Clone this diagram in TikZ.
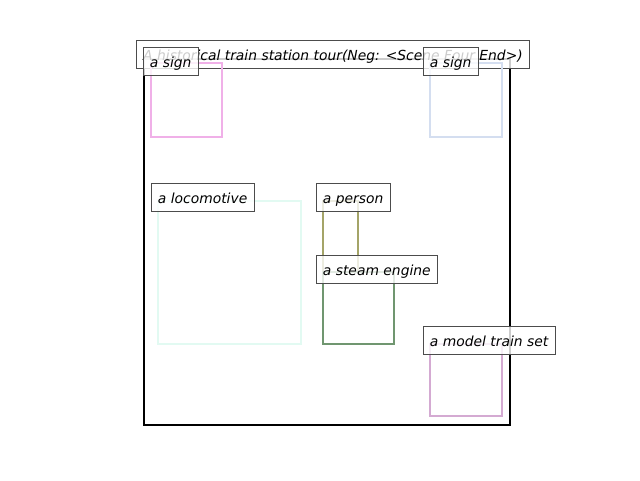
\documentclass[tikz,border=0pt]{standalone}
\usepackage{fontspec}
\setmainfont{DejaVu Sans}
\definecolor{signpink}{RGB}{240,176,232}
\definecolor{signblue}{RGB}{212,222,240}
\definecolor{locogreen}{RGB}{226,250,242}
\definecolor{personolive}{RGB}{164,164,104}
\definecolor{steamgreen}{RGB}{112,150,112}
\definecolor{modelpurple}{RGB}{212,170,210}
\tikzset{
  tag/.style={draw=black!70,fill=white,fill opacity=0.8,text opacity=1,
    font=\itshape\fontsize{10.4}{12}\selectfont,inner xsep=5pt,
    text height=9pt,text depth=0pt,minimum height=21pt,anchor=west},
  objbox/.style={line width=1.5pt}
}
\begin{document}
\begin{tikzpicture}[x=0.75pt,y=-0.75pt]
\useasboundingbox (0,0) rectangle (640,480);
% scene frame
\draw[line width=1.5pt] (144,59) rectangle (510,425);
\node[tag,anchor=center,minimum width=294pt] (title) at (333,54) {A historical train station tour(Neg: <Scene Four End>)};
% object boxes
\draw[objbox,signpink] (151,63) rectangle (222,137);
\draw[objbox,signblue] (430,63) rectangle (502,137);
\draw[objbox,locogreen] (158,201) rectangle (301,344);
\draw[objbox,personolive] (323,201) rectangle (358,272);
\draw[objbox,steamgreen] (323,272) rectangle (394,344);
\draw[objbox,modelpurple] (430,344) rectangle (502,416);
% labels
\node[tag] (signa) at (143,61) {a sign};
\node[tag] (signb) at (423,61) {a sign};
\node[tag] (loco) at (151,197) {a locomotive};
\node[tag] (person) at (316,197) {a person};
\node[tag] (steam) at (316,269) {a steam engine};
\node[tag] (model) at (423,340) {a model train set};
\end{tikzpicture}
\end{document}
